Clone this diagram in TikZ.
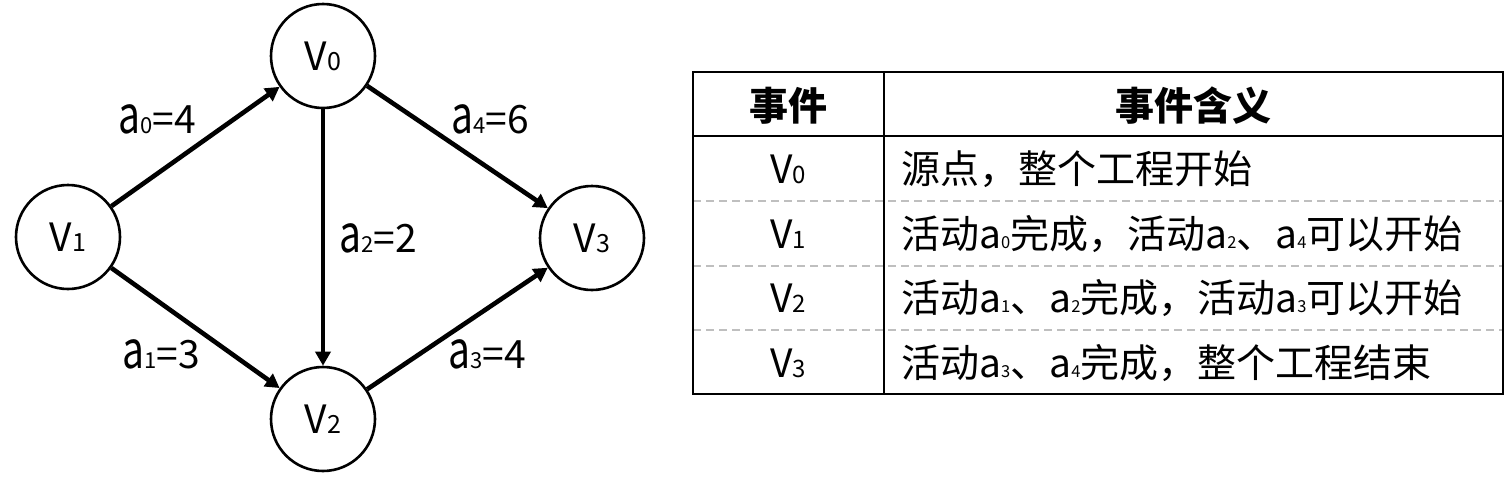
\documentclass[tikz,border=0pt]{standalone}
\usepackage{fontspec}
\usepackage{graphicx}
\setmainfont{Noto Sans CJK SC}
\usetikzlibrary{arrows.meta}
\newcommand\vsub[1]{{\fontsize{25pt}{25pt}\selectfont #1}}
\newcommand\tvsub[1]{{\fontsize{24pt}{24pt}\selectfont #1}}
\newcommand\gaa[1]{\scalebox{1}[1.33]{a}{\fontsize{22pt}{22pt}\selectfont #1}}
\newcommand\taa[1]{a{\fontsize{16.5pt}{16.5pt}\selectfont #1}}
\begin{document}
\begin{tikzpicture}[x=1pt,y=-1pt,
  every node/.style={font=\fontsize{39pt}{41pt}\selectfont},
  vertex/.style={circle,draw=black,line width=2.6pt,minimum size=104pt,inner sep=0pt,fill=white},
  edgeline/.style={line width=4.6pt,-{Triangle[length=14pt,width=15pt]}},
  elabel/.style={anchor=base,inner sep=0pt},
  cell/.style={anchor=base,inner sep=0pt},
  celltext/.style={anchor=base west,inner sep=0pt},
  rowsep/.style={draw=black!25,line width=2pt,dash pattern=on 8pt off 5pt},
  tableline/.style={draw=black,line width=2pt}]
\useasboundingbox (0,0) rectangle (1511,482);
% graph
\node[vertex] (v0) at (323,56) {V\vsub{0}};
\node[vertex] (v1) at (68,237) {V\vsub{1}};
\node[vertex] (v2) at (323,419) {V\vsub{2}};
\node[vertex] (v3) at (592,238) {V\vsub{3}};
\draw[edgeline] (v1) -- (v0);
\draw[edgeline] (v1) -- (v2);
\draw[edgeline] (v0) -- (v2);
\draw[edgeline] (v2) -- (v3);
\draw[edgeline] (v0) -- (v3);
\node[elabel] (l0) at (157,133) {\gaa{0}=4};
\node[elabel] (l4) at (490,133) {\gaa{4}=6};
\node[elabel] (l2) at (378,252) {\gaa{2}=2};
\node[elabel] (l1) at (161,368) {\gaa{1}=3};
\node[elabel] (l3) at (487,368) {\gaa{3}=4};
% table
\draw[rowsep] (693,201) -- (1503,201);
\draw[rowsep] (693,265.5) -- (1503,265.5);
\draw[rowsep] (693,330) -- (1503,330);
\draw[tableline] (693,72) rectangle (1503,394);
\draw[tableline] (884,72) -- (884,394);
\draw[tableline] (693,136) -- (1503,136);
\node[cell,font=\fontsize{39pt}{41pt}\selectfont\bfseries] (h1) at (788,120) {事件};
\node[cell,font=\fontsize{39pt}{41pt}\selectfont\bfseries] (h2) at (1193.5,120) {事件含义};
\node[cell] (c1) at (788,183.5) {V\tvsub{0}};
\node[cell] (c2) at (788,248) {V\tvsub{1}};
\node[cell] (c3) at (788,312.5) {V\tvsub{2}};
\node[cell] (c4) at (788,377) {V\tvsub{3}};
\node[celltext] (d1) at (901,183.5) {源点，整个工程开始};
\node[celltext] (d2) at (901,248) {活动\taa{0}完成，活动\taa{2}、\taa{4}可以开始};
\node[celltext] (d3) at (901,312.5) {活动\taa{1}、\taa{2}完成，活动\taa{3}可以开始};
\node[celltext] (d4) at (901,377) {活动\taa{3}、\taa{4}完成，整个工程结束};
\end{tikzpicture}
\end{document}
